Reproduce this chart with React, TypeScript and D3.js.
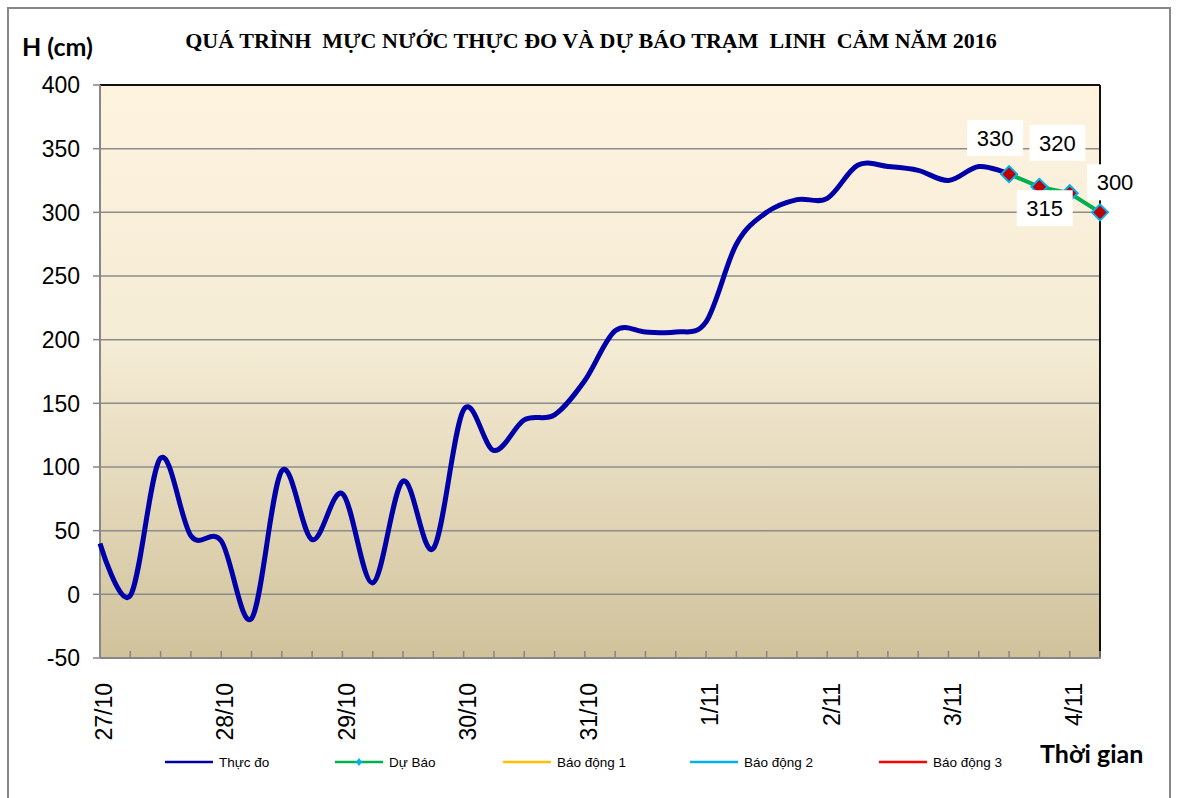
import React from 'react';
import * as d3 from 'd3';

// 6-hourly observed water level (cm) from 27/10 00h to 3/11 12h
const observed = [
  40, -1, 107, 46, 42, -19, 97, 43, 79, 9,
  89, 36, 145, 113, 137, 141, 168, 207, 206, 206,
  214, 275, 300, 310, 311, 337, 336, 333, 325, 336,
  330,
];
// 6-hourly forecast from 3/11 12h
const forecast = [330, 320, 315, 300];
const dayLabels = ['27/10', '28/10', '29/10', '30/10', '31/10', '1/11', '2/11', '3/11', '4/11'];
const yTicks = [400, 350, 300, 250, 200, 150, 100, 50, 0, -50];
const legendItems = ['Thực đo', 'Dự Báo', 'Báo động 1', 'Báo động 2', 'Báo động 3'];
const legendColors = ['#0000a0', '#00b050', '#ffc000', '#00b0f0', '#ff0000'];

const start = new Date(2016, 9, 27, 0);
const end = new Date(2016, 10, 4, 6);
const hour = 3600 * 1000;

const W = 1179;
const H = 798;
const left = 100, right = 1100, top = 85, bottom = 658;

export default function App() {
  const x = d3.scaleTime().domain([start, end]).range([left, right]);
  const y = d3.scaleLinear().domain([-50, 400]).range([bottom, top]);

  const obsPts = observed.map((v, i) => ({ t: new Date(+start + i * 6 * hour), v }));
  const fcStart = +start + (observed.length - 1) * 6 * hour;
  const fcPts = forecast.map((v, i) => ({ t: new Date(fcStart + i * 6 * hour), v }));

  // Excel-like smoothed line
  const smooth = d3.line<{ t: Date; v: number }>()
    .x(d => x(d.t)).y(d => y(d.v)).curve(d3.curveCardinal.tension(0));
  const straight = d3.line<{ t: Date; v: number }>()
    .x(d => x(d.t)).y(d => y(d.v));

  const sixHours = d3.timeHour.every(6)!.range(new Date(+start + hour), new Date(+end + hour));
  const days = dayLabels.map((l, i) => ({ l, t: d3.timeDay.offset(start, i) }));

  // label offsets for forecast values [dx, dy] relative to the point
  const labelOff = [[-14, -36], [18, -44], [-25, 15], [15, -30]];

  const legendX = [165, 335, 503, 690, 879];

  return (
    <svg width={W} height={H} style={{ position: 'absolute', left: 0, top: 0 }}
      fontFamily="Arial, 'Liberation Sans', sans-serif">
      <defs>
        <linearGradient id="bg" x1="0" y1="0" x2="0" y2="1">
          <stop offset="0" stopColor="#fdf3df" />
          <stop offset="0.45" stopColor="#f5ecd5" />
          <stop offset="1" stopColor="#d0c29b" />
        </linearGradient>
      </defs>
      <rect x={0} y={0} width={W} height={H} fill="#fff" />
      <rect x={8} y={8} width={1162} height={820} fill="none" stroke="#888" strokeWidth={2} />

      <text x={591} y={48} textAnchor="middle" fontFamily="'Liberation Serif', 'Times New Roman', serif"
        fontWeight="bold" fontSize={22} style={{ whiteSpace: 'pre' }}>
        QUÁ TRÌNH  MỰC NƯỚC THỰC ĐO VÀ DỰ BÁO TRẠM  LINH  CẢM NĂM 2016
      </text>
      <text x={22} y={56} fontFamily="Lato, 'Open Sans', sans-serif" fontWeight="bold" fontSize={25}>H (cm)</text>

      <rect x={left} y={top} width={right - left} height={bottom - top} fill="url(#bg)" />

      {yTicks.filter(v => v !== 400 && v !== -50).map(v => (
        <line key={v} x1={left} x2={right} y1={y(v)} y2={y(v)} stroke="#8c8c8c" strokeWidth={1.5} />
      ))}

      {/* plot frame: top/right dark, left/bottom gray axes */}
      <line x1={left} x2={right} y1={top} y2={top} stroke="#111" strokeWidth={2} />
      <line x1={right} x2={right} y1={top} y2={bottom} stroke="#111" strokeWidth={2} />
      <line x1={left} x2={left} y1={top} y2={bottom} stroke="#868686" strokeWidth={2} />
      <line x1={left} x2={right + 1} y1={bottom} y2={bottom} stroke="#868686" strokeWidth={2} />

      {yTicks.map(v => (
        <g key={v}>
          <line x1={93} x2={left} y1={y(v)} y2={y(v)} stroke="#868686" strokeWidth={1.5} />
          <text x={80} y={y(v)} dy="0.36em" textAnchor="end" fontSize={23}>{v}</text>
        </g>
      ))}

      {sixHours.map(t => (
        <line key={+t} x1={x(t)} x2={x(t)} y1={bottom} y2={bottom - 7} stroke="#868686" strokeWidth={1.5} />
      ))}
      {days.map(d => (
        <text key={d.l} transform={`translate(${x(d.t) + 4},683) rotate(-90)`} textAnchor="end"
          dy="0.36em" fontSize={23}>{d.l}</text>
      ))}

      <path d={smooth(obsPts)!} fill="none" stroke="#0000a8" strokeWidth={5} strokeLinejoin="round" />
      <path d={straight(fcPts)!} fill="none" stroke="#00b050" strokeWidth={4} />
      {fcPts.map((d, i) => (
        <path key={i} transform={`translate(${x(d.t)},${y(d.v)})`} d="M0,-8L8,0L0,8L-8,0Z"
          fill="#c00000" stroke="#00b0f0" strokeWidth={2} />
      ))}
      {fcPts.map((d, i) => {
        const cx = x(d.t) + labelOff[i][0];
        const cy = y(d.v) + labelOff[i][1];
        return (
          <g key={'l' + i}>
            <rect x={cx - 28} y={cy - 18} width={56} height={36} fill="#fff" />
            <text x={cx} y={cy} dy="0.36em" textAnchor="middle" fontSize={22}>{d.v}</text>
          </g>
        );
      })}

      {legendItems.map((l, i) => (
        <g key={l}>
          <line x1={legendX[i]} x2={legendX[i] + 48} y1={762} y2={762} stroke={legendColors[i]} strokeWidth={2.5} />
          {i === 1 && (
            <path transform={`translate(${legendX[i] + 24},762)`} d="M0,-4L3,0L0,4L-3,0Z" fill="#00b0f0" />
          )}
          <text x={legendX[i] + 54} y={762} dy="0.36em" fontSize={13.5}>{l}</text>
        </g>
      ))}

      <text x={1040} y={763} fontFamily="Lato, 'Open Sans', sans-serif" fontWeight="bold" fontSize={25}>Thời gian</text>
    </svg>
  );
}
